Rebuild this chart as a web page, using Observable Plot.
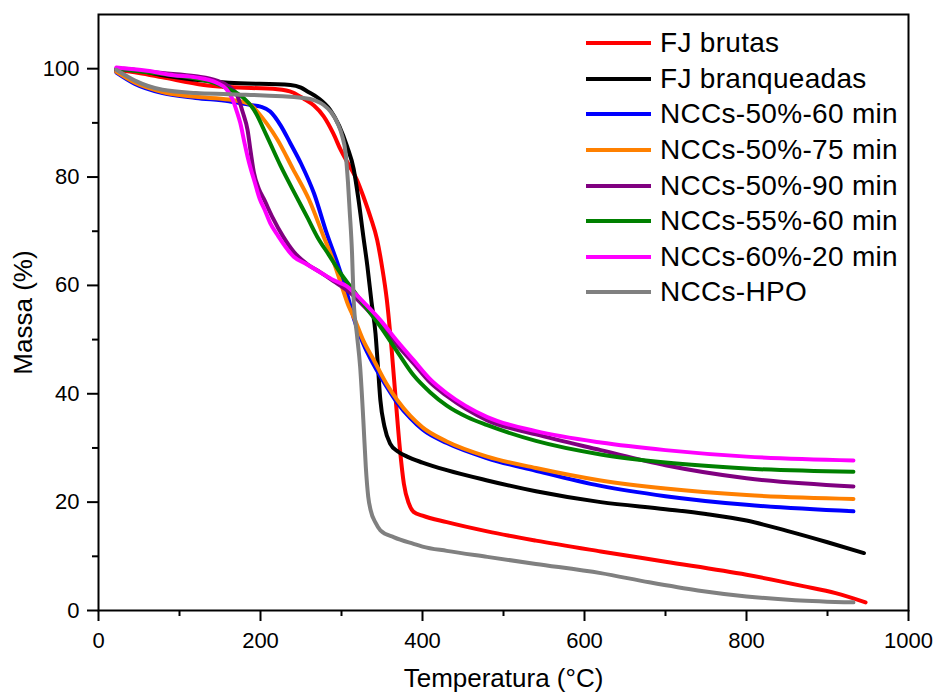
<!DOCTYPE html>
<html><head><meta charset="utf-8">
<script src="https://cdn.jsdelivr.net/npm/d3@7"></script>
<script src="https://cdn.jsdelivr.net/npm/@observablehq/plot@0.6"></script>
<style>
body{margin:0;background:#fff;}
#wrap{position:relative;width:936px;height:695px;font-family:"Liberation Sans",Arial,sans-serif;}
#legend{position:absolute;left:586px;top:25.5px;}
.row{display:flex;align-items:center;height:35.6px;}
.sw{width:65px;height:4px;margin-right:9px;}
.lab{font-size:28px;color:#000;white-space:nowrap;line-height:1;letter-spacing:0.3px;}
</style></head><body><div id="wrap"><div id="legend"></div></div>
<script>
// Series names and colours
const seriesNames = ["FJ brutas","FJ branqueadas","NCCs-50%-60 min","NCCs-50%-75 min","NCCs-50%-90 min","NCCs-55%-60 min","NCCs-60%-20 min","NCCs-HPO"];
const seriesColors = ["#ff0000","#000000","#0000ff","#ff8000","#800080","#008000","#ff00ff","#808080"];

// [Temperatura (°C), Massa (%)]
const fjBrutas = [[22,99.8],[50,99.2],[79,98.4],[130,97.0],[161,96.6],[221,96.2],[240,95.6],[253,94.5],[266,93.2],[278,91.2],[290,88.0],[299,85.0],[310,82.0],[319,79.5],[328,76.0],[336,72.5],[344,68.4],[350,63.5],[356,57.3],[362,48.0],[367,38.8],[372,30.0],[377,23.4],[383,19.8],[389,18.2],[400,17.5],[430,16.3],[480,14.6],[540,12.9],[620,10.9],[700,9.0],[800,6.6],[870,4.5],[910,3.2],[947,1.5]];
const fjBranqueadas = [[22,99.6],[31,100.0],[79,98.8],[130,97.8],[161,97.4],[237,97.0],[250,96.5],[258,95.8],[272,94.5],[286,92.4],[297,89.5],[307,85.6],[315,81.5],[321,75.8],[327,69.0],[332,63.5],[337,57.0],[342,51.1],[345,45.0],[348,38.8],[353,34.0],[360,30.8],[370,29.3],[381,28.4],[400,27.3],[430,25.9],[480,24.0],[540,22.0],[620,20.0],[700,18.7],[750,17.8],[800,16.6],[850,14.7],[900,12.6],[945,10.6]];
const nccs50_60 = [[22,99.3],[45,97.2],[79,95.5],[120,94.6],[161,94.0],[188,93.3],[200,93.0],[212,92.1],[225,89.5],[237,86.2],[250,82.5],[266,77.0],[282,69.5],[295,64.1],[305,59.5],[315,54.0],[327,49.2],[340,45.3],[355,41.5],[369,38.3],[385,35.5],[400,33.4],[430,30.9],[480,28.1],[540,25.8],[620,23.0],[700,21.1],[800,19.5],[932,18.3]];
const nccs50_75 = [[22,99.4],[45,97.4],[79,95.7],[120,94.8],[161,94.3],[185,93.6],[196,92.1],[208,89.8],[221,86.9],[240,81.5],[260,75.8],[278,69.0],[290,64.5],[300,60.0],[309,56.1],[315,54.2],[327,49.8],[340,46.2],[355,42.0],[369,38.8],[385,35.9],[400,33.8],[430,31.2],[480,28.4],[540,26.3],[620,24.0],[700,22.5],[800,21.3],[932,20.6]];
const nccs50_90 = [[22,100.0],[79,99.2],[120,98.6],[146,97.8],[160,96.8],[171,95.1],[178,92.0],[184,88.7],[188,84.5],[192,80.7],[198,77.8],[204,76.0],[215,72.5],[228,69.0],[241,66.2],[257,64.0],[274,62.4],[290,60.8],[311,58.6],[330,55.8],[348,52.8],[370,48.8],[389,45.6],[410,42.0],[430,39.6],[480,35.1],[540,32.5],[620,29.6],[700,26.8],[800,24.4],[932,22.9]];
const nccs55_60 = [[22,100.0],[79,99.0],[120,98.2],[146,97.2],[160,96.3],[175,95.1],[192,92.4],[208,87.5],[225,82.0],[245,76.2],[258,72.5],[270,69.0],[285,65.5],[299,62.2],[311,59.8],[330,56.0],[348,52.4],[370,47.5],[389,43.4],[410,40.2],[430,37.8],[455,35.7],[480,34.2],[540,31.3],[620,28.8],[700,27.3],[800,26.2],[932,25.6]];
const nccs60_20 = [[22,100.2],[60,99.6],[93,98.8],[120,98.4],[146,97.4],[158,96.2],[165,94.5],[171,92.0],[175,90.0],[180,86.5],[184,83.8],[188,81.5],[192,79.5],[199,76.0],[205,74.0],[212,71.5],[221,69.3],[241,65.3],[257,63.9],[274,62.4],[290,61.0],[307,59.8],[311,59.3],[330,56.5],[348,53.6],[370,49.5],[389,46.2],[410,42.6],[430,40.1],[480,35.7],[540,33.1],[620,31.0],[700,29.6],[800,28.4],[932,27.7]];
const nccsHPO = [[22,99.8],[45,97.8],[79,96.1],[120,95.5],[161,95.3],[253,94.6],[268,94.1],[278,93.3],[287,92.0],[295,90.0],[301,87.5],[305,84.5],[308,79.0],[310,74.0],[313,66.0],[315,57.3],[319,51.0],[323,45.0],[327,35.0],[330,26.5],[333,21.0],[336,18.5],[342,16.2],[348,14.8],[365,13.5],[389,12.3],[400,11.8],[430,11.0],[480,9.9],[540,8.6],[620,6.9],[680,5.2],[740,3.7],[800,2.6],[860,1.9],[932,1.5]];

const xMajorTicks = [0,200,400,600,800,1000];
const xMinorTicks = [100,300,500,700,900];
const yMajorTicks = [0,20,40,60,80,100];
const yMinorTicks = [10,30,50,70,90];
const xTitle = "Temperatura (°C)";
const yTitle = "Massa (%)";

const seriesData = [fjBrutas,fjBranqueadas,nccs50_60,nccs50_75,nccs50_90,nccs55_60,nccs60_20,nccsHPO];
const rows = seriesData.flatMap((pts,i) => pts.map(([t,m]) => ({series: seriesNames[i], t, m})));

const font = "'Liberation Sans', Arial, sans-serif";
const chart = Plot.plot({
  width: 936, height: 695,
  marginLeft: 98, marginRight: 28, marginTop: 14, marginBottom: 85,
  style: {fontFamily: font, color: "#000", background: "#fff", overflow: "visible"},
  x: {domain: [0,1000]},
  y: {domain: [0,110]},
  color: {domain: seriesNames, range: seriesColors},
  marks: [
    Plot.line(rows, {x: "t", y: "m", z: "series", stroke: "series", strokeWidth: 4, curve: "monotone-x", strokeLinejoin: "round"}),
    Plot.frame({stroke: "#000", strokeWidth: 2}),
    Plot.axisX({ticks: xMajorTicks, tickSize: 11, tickPadding: 11, fontSize: 22, label: null, strokeWidth: 2, tickFormat: d => String(d)}),
    Plot.axisX({ticks: xMinorTicks, tickSize: 6, text: null, label: null, strokeWidth: 2}),
    Plot.axisY({ticks: yMajorTicks, tickSize: 11, tickPadding: 8, fontSize: 22, label: null, strokeWidth: 2, tickFormat: d => String(d)}),
    Plot.axisY({ticks: yMinorTicks, tickSize: 6, text: null, label: null, strokeWidth: 2}),
    Plot.text([xTitle], {text: d => d, frameAnchor: "bottom", dy: 68, fontSize: 26, textAnchor: "middle", lineAnchor: "middle"}),
    Plot.text([yTitle], {text: d => d, frameAnchor: "left", dx: -75, rotate: -90, fontSize: 26, textAnchor: "middle", lineAnchor: "middle"})
  ]
});
const wrap = document.getElementById("wrap");
wrap.insertBefore(chart, wrap.firstChild);

const legend = document.getElementById("legend");
seriesNames.forEach((name, i) => {
  const row = document.createElement("div");
  row.className = "row";
  row.innerHTML = `<div class="sw" style="background:${seriesColors[i]}"></div><div class="lab">${name}</div>`;
  legend.appendChild(row);
});
</script>
</body></html>
